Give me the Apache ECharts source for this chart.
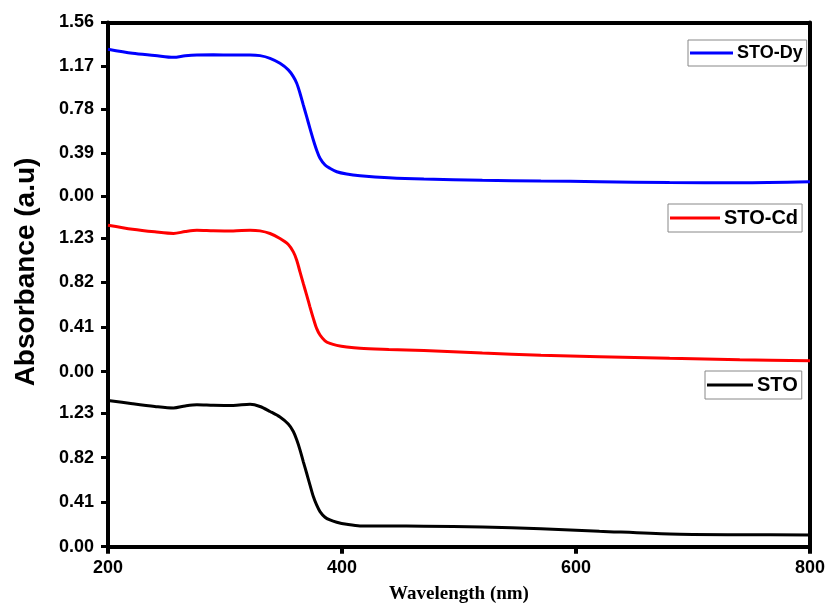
<!DOCTYPE html>
<html>
<head>
<meta charset="utf-8">
<script src="https://cdn.jsdelivr.net/npm/echarts@6/dist/echarts.min.js"></script>
<style>
  html, body { margin: 0; padding: 0; background: #fff; }
  #chart { width: 831px; height: 605px; }
</style>
</head>
<body>
<div id="chart"></div>
<script>
// wavelength (nm) sample points
const wavelength = [200, 221, 240, 256, 266, 276, 290, 307, 321.4, 329.9, 338.5, 347, 354.1, 358.4, 361.3, 364.1, 366.9, 369.8, 372.6, 375.5, 378.3, 381.2, 385.5, 389.7, 395.5, 404, 415.4, 440, 470, 520, 570, 620, 680, 740, 800];

const stoDy = [1.32, 1.284, 1.265, 1.248, 1.262, 1.269, 1.27, 1.269, 1.269, 1.263, 1.239, 1.194, 1.135, 1.075, 1.015, 0.926, 0.821, 0.716, 0.611, 0.507, 0.417, 0.343, 0.283, 0.253, 0.222, 0.202, 0.187, 0.168, 0.156, 0.146, 0.139, 0.133, 0.125, 0.124, 0.133];
const stoCd = [1.346, 1.309, 1.285, 1.27, 1.288, 1.3, 1.296, 1.294, 1.3, 1.294, 1.27, 1.224, 1.169, 1.101, 1.025, 0.917, 0.811, 0.704, 0.596, 0.49, 0.398, 0.337, 0.284, 0.26, 0.242, 0.227, 0.215, 0.205, 0.195, 0.172, 0.151, 0.138, 0.123, 0.11, 0.1];
const sto = [1.346, 1.315, 1.29, 1.276, 1.295, 1.306, 1.302, 1.3, 1.31, 1.29, 1.244, 1.193, 1.128, 1.06, 0.983, 0.891, 0.783, 0.676, 0.569, 0.461, 0.384, 0.323, 0.271, 0.246, 0.225, 0.206, 0.191, 0.19, 0.189, 0.182, 0.165, 0.143, 0.117, 0.11, 0.108];

const xTicks = [200, 400, 600, 800];
const panelNames = ['STO-Dy', 'STO-Cd', 'STO'];
const panelColors = ['#0000ff', '#ff0000', '#000000'];
const panelMax = [1.56, 1.61, 1.61];
const panelStep = [0.39, 0.41, 0.41];

const pairs = (ys) => wavelength.map((w, i) => [w, ys[i]]);
const panelData = [stoDy, stoCd, sto];

const labelFont = { color: '#000', fontFamily: 'Liberation Sans', fontWeight: 'bold', fontSize: 18 };
const axisLine = { show: true, onZero: false, lineStyle: { color: '#000', width: 4 } };

const grids = [
  { left: 108, right: 21, top: 22.5, height: 174 },
  { left: 108, right: 21, top: 196.5, height: 175.2 },
  { left: 108, right: 21, top: 371.7, height: 175 }
];

const xAxes = grids.map((g, i) => {
  const base = { type: 'value', gridIndex: i, min: 200, max: 800, interval: 200, splitLine: { show: false } };
  if (i === 0) {
    return Object.assign(base, { position: 'top', axisLine, axisTick: { show: false }, axisLabel: { show: false } });
  }
  if (i === 1) {
    return Object.assign(base, { show: false });
  }
  return Object.assign(base, {
    position: 'bottom',
    axisLine,
    axisTick: { show: true, inside: false, length: 7, lineStyle: { color: '#000', width: 4 } },
    axisLabel: Object.assign({ margin: 12, formatter: (v) => (xTicks.includes(v) ? String(v) : '') }, labelFont),
    name: 'Wavelength (nm)',
    nameLocation: 'middle',
    nameGap: 38,
    nameTextStyle: { color: '#000', fontFamily: 'Liberation Serif', fontWeight: 'bold', fontSize: 19 }
  });
});

const yAxes = [];
grids.forEach((g, i) => {
  yAxes.push({
    type: 'value', gridIndex: i, position: 'left',
    min: 0, max: panelMax[i], interval: panelStep[i],
    axisLine,
    axisTick: { show: true, inside: false, length: 7, lineStyle: { color: '#000', width: 3 } },
    axisLabel: Object.assign({ margin: 14, showMaxLabel: i === 0, formatter: (v) => v.toFixed(2) }, labelFont),
    splitLine: { show: false }
  });
  yAxes.push({
    type: 'value', gridIndex: i, position: 'right',
    min: 0, max: panelMax[i],
    axisLine,
    axisTick: { show: false }, axisLabel: { show: false }, splitLine: { show: false }
  });
});

const series = panelData.map((ys, i) => ({
  name: panelNames[i],
  type: 'line',
  xAxisIndex: i,
  yAxisIndex: i * 2,
  data: pairs(ys),
  showSymbol: false,
  symbol: 'none',
  smooth: 0.3,
  lineStyle: { color: panelColors[i], width: 3 },
  itemStyle: { color: panelColors[i] },
  z: 3
}));

const legendPos = [
  { left: 688, top: 40, itemWidth: 43, fontSize: 18, padding: [4, 4, 4, 2] },
  { left: 668, top: 204, itemWidth: 50, fontSize: 20, padding: [4, 4, 4, 2] },
  { left: 705, top: 371, itemWidth: 46, fontSize: 20, padding: [4, 4, 4, 2] }
];
const legends = legendPos.map((p, i) => ({
  data: [panelNames[i]],
  left: p.left,
  top: p.top,
  orient: 'vertical',
  icon: 'rect',
  itemWidth: p.itemWidth,
  itemHeight: 3,
  padding: p.padding,
  borderColor: '#888',
  borderWidth: 1,
  backgroundColor: '#fff',
  textStyle: Object.assign({}, labelFont, { fontSize: p.fontSize, padding: [0, 0, 0, -1] }),
  selectedMode: false
}));

const chart = echarts.init(document.getElementById('chart'), null, { renderer: 'canvas' });
chart.setOption({
  animation: false,
  backgroundColor: '#fff',
  grid: grids,
  xAxis: xAxes,
  yAxis: yAxes,
  legend: legends,
  series,
  graphic: [{
    type: 'text',
    x: 26,
    y: 272,
    rotation: Math.PI / 2,
    style: {
      text: 'Absorbance (a.u)',
      fill: '#000',
      font: 'bold 28px "Liberation Sans"',
      align: 'center',
      verticalAlign: 'middle'
    }
  }]
});
</script>
</body>
</html>
